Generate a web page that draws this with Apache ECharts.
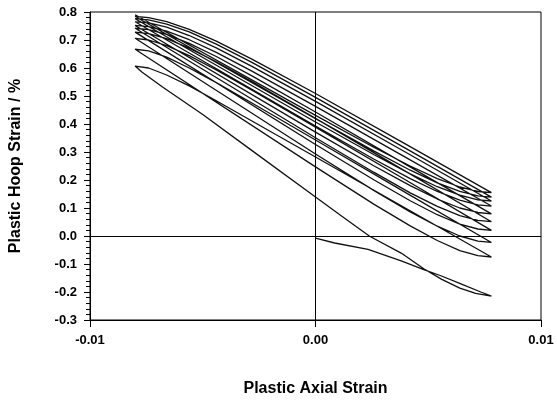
<!DOCTYPE html>
<html>
<head>
<meta charset="utf-8">
<script src="https://cdn.jsdelivr.net/npm/echarts@6/dist/echarts.min.js"></script>
<style>
  html, body { margin: 0; padding: 0; background: #fff; }
  #myChart { width: 557px; height: 402px; }
</style>
</head>
<body>
<div id="myChart"></div>
<script>
// axial strain (x) and hoop strain in % (y)

// first tension from the origin
const loadX = [0, 0.00085, 0.00233, 0.0038, 0.00483, 0.00556, 0.00645, 0.00733, 0.0078];
const loadY = [-0.008, -0.025, -0.048, -0.089, -0.121, -0.142, -0.171, -0.2, -0.215];

// first compression, right tip to left tip
const comp1X = [0.0078, 0.0071, 0.0064, 0.0056, 0.0048, 0.0038, 0.0024, 0.0012, 0, -0.0028, -0.005, -0.0068, -0.0077, -0.008];
const comp1Y = [-0.215, -0.205, -0.186, -0.155, -0.117, -0.061, -0.001, 0.069, 0.139, 0.304, 0.434, 0.533, 0.586, 0.607];

// later compression branches share these x positions
const compX = [0.0078, 0.0072, 0.0064, 0.0054, 0.0042, 0.0026, 0, -0.008];
const comp2Y = [-0.075, -0.070, -0.052, -0.016, 0.036, 0.113, 0.247, 0.667];
const comp3Y = [-0.023, -0.018, 0.000, 0.035, 0.086, 0.162, 0.293, 0.706];
const comp4Y = [0.020, 0.025, 0.042, 0.076, 0.126, 0.200, 0.327, 0.728];
const comp5Y = [0.051, 0.056, 0.073, 0.106, 0.154, 0.227, 0.351, 0.742];
const comp6Y = [0.079, 0.084, 0.100, 0.132, 0.180, 0.250, 0.371, 0.752];
const comp7Y = [0.107, 0.111, 0.128, 0.159, 0.205, 0.274, 0.393, 0.765];
const comp8Y = [0.125, 0.129, 0.146, 0.176, 0.222, 0.290, 0.407, 0.776];
const comp9Y = [0.139, 0.143, 0.159, 0.190, 0.235, 0.303, 0.419, 0.784];
const comp10Y = [0.155, 0.159, 0.175, 0.205, 0.250, 0.316, 0.431, 0.790];

// tension branches, left tip to right tip
const tensX = [-0.008, -0.0074, -0.0066, -0.0056, -0.0044, -0.0028, 0, 0.004, 0.0078];
const tens1Y = [0.607, 0.600, 0.575, 0.536, 0.483, 0.410, 0.282, 0.099, -0.075];
const tens2Y = [0.667, 0.661, 0.639, 0.600, 0.548, 0.474, 0.343, 0.155, -0.023];
const tens3Y = [0.706, 0.700, 0.680, 0.644, 0.593, 0.520, 0.389, 0.200, 0.020];
const tens4Y = [0.728, 0.723, 0.705, 0.671, 0.622, 0.551, 0.420, 0.231, 0.051];
const tens5Y = [0.742, 0.737, 0.720, 0.688, 0.641, 0.571, 0.443, 0.256, 0.079];
const tens6Y = [0.752, 0.748, 0.732, 0.701, 0.656, 0.588, 0.463, 0.281, 0.107];
const tens7Y = [0.765, 0.761, 0.746, 0.716, 0.672, 0.605, 0.481, 0.299, 0.125];
const tens8Y = [0.776, 0.772, 0.757, 0.729, 0.685, 0.619, 0.495, 0.313, 0.139];
const tens9Y = [0.784, 0.780, 0.766, 0.738, 0.696, 0.631, 0.509, 0.328, 0.155];

const xTicks = [-0.01, 0.00, 0.01];
const yTicks = [-0.3, -0.2, -0.1, 0.0, 0.1, 0.2, 0.3, 0.4, 0.5, 0.6, 0.7, 0.8];

function pairs(xs, ys) {
    return xs.map((x, i) => [x, ys[i]]);
}

// one continuous path in the order it was loaded
var path = [].concat(
    pairs(loadX, loadY),
    pairs(comp1X, comp1Y), pairs(tensX, tens1Y),
    pairs(compX, comp2Y), pairs(tensX, tens2Y),
    pairs(compX, comp3Y), pairs(tensX, tens3Y),
    pairs(compX, comp4Y), pairs(tensX, tens4Y),
    pairs(compX, comp5Y), pairs(tensX, tens5Y),
    pairs(compX, comp6Y), pairs(tensX, tens6Y),
    pairs(compX, comp7Y), pairs(tensX, tens7Y),
    pairs(compX, comp8Y), pairs(tensX, tens8Y),
    pairs(compX, comp9Y), pairs(tensX, tens9Y),
    pairs(compX, comp10Y)
);

var font = '"Liberation Sans", Arial, sans-serif';
var myChart = echarts.init(document.getElementById('myChart'), null, {renderer: 'canvas'});

myChart.setOption({
    animation: false,
    backgroundColor: '#fff',
    grid: {
        left: 88, right: 16, top: 12, bottom: 77,
        show: true, borderColor: '#000', borderWidth: 1
    },
    xAxis: {
        type: 'value',
        min: xTicks[0], max: xTicks[xTicks.length - 1], interval: 0.01,
        name: 'Plastic Axial Strain',
        nameLocation: 'middle', nameGap: 61,
        nameTextStyle: {fontFamily: font, fontWeight: 'bold', fontSize: 16, color: '#000'},
        axisLine: {onZero: false, lineStyle: {color: '#000', width: 1}},
        axisTick: {show: true, length: 7, lineStyle: {color: '#000'}},
        axisLabel: {
            margin: 14, color: '#000', fontFamily: font, fontWeight: 'bold', fontSize: 13,
            formatter: v => v.toFixed(2)
        },
        splitLine: {show: false}
    },
    yAxis: {
        type: 'value',
        min: yTicks[0], max: yTicks[yTicks.length - 1], interval: 0.1,
        name: 'Plastic Hoop Strain / %',
        nameLocation: 'middle', nameGap: 66, nameRotate: 90,
        nameTextStyle: {fontFamily: font, fontWeight: 'bold', fontSize: 16, color: '#000'},
        axisLine: {onZero: false, lineStyle: {color: '#000', width: 1}},
        axisTick: {show: true, length: 6, lineStyle: {color: '#000'}},
        minorTick: {show: true, splitNumber: 5, length: 4, lineStyle: {color: '#000'}},
        axisLabel: {
            margin: 13, color: '#000', fontFamily: font, fontWeight: 'bold', fontSize: 13,
            formatter: v => v.toFixed(1)
        },
        splitLine: {show: false}
    },
    series: [
        {
            type: 'line',
            data: path,
            showSymbol: false,
            smooth: false,
            lineStyle: {color: '#111', width: 1.3},
            markLine: {
                silent: true,
                symbol: 'none',
                label: {show: false},
                lineStyle: {color: '#000', width: 1, type: 'solid'},
                data: [{xAxis: 0}, {yAxis: 0}]
            }
        }
    ]
});
</script>
</body>
</html>
